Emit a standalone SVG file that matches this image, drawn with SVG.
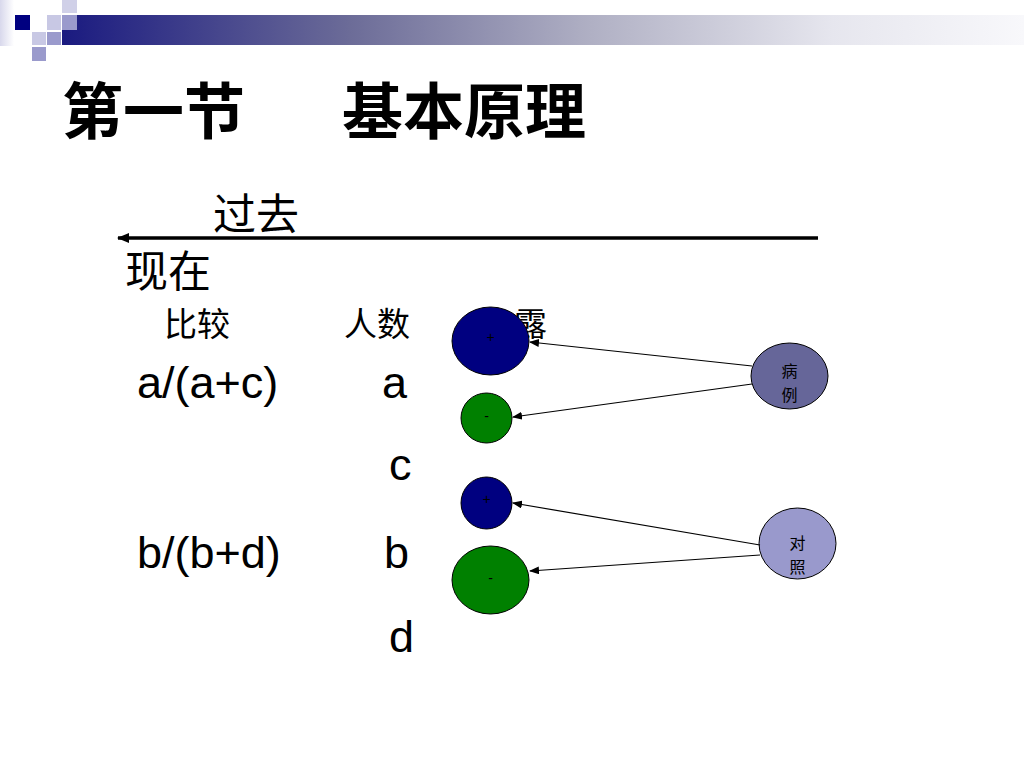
<svg xmlns="http://www.w3.org/2000/svg" width="1024" height="768" viewBox="0 0 1024 768">
<defs>
<linearGradient id="bar" x1="62" y1="0" x2="1024" y2="0" gradientUnits="userSpaceOnUse">
<stop offset="0" stop-color="#1a1a80"/>
<stop offset="0.3" stop-color="#6c6c98"/>
<stop offset="0.55" stop-color="#b0b0c4"/>
<stop offset="0.8" stop-color="#e6e6ee"/>
<stop offset="1" stop-color="#f8f8fb"/>
</linearGradient>
<linearGradient id="edge" x1="0" y1="0" x2="1" y2="0">
<stop offset="0" stop-color="#d8d8ec"/>
<stop offset="1" stop-color="#ffffff"/>
</linearGradient>
<marker id="ah" markerWidth="10" markerHeight="8" refX="9" refY="4" orient="auto" markerUnits="userSpaceOnUse">
<path d="M0,0 L10,4 L0,8 Z" fill="#000"/>
</marker>
<marker id="ahBig" markerWidth="12" markerHeight="10" refX="11" refY="5" orient="auto" markerUnits="userSpaceOnUse">
<path d="M0,0 L12,5 L0,10 Z" fill="#000"/>
</marker>
</defs>
<style>
.cjk{font-family:"Noto Sans CJK SC","Noto Sans CJK JP",sans-serif;fill:#000}
.lat{font-family:"Liberation Sans",Arial,sans-serif;fill:#000}
.sign{font-family:"Liberation Sans",Arial,sans-serif;font-size:14px;fill:#000;text-anchor:middle}
.node-lbl{font-family:"Noto Sans CJK SC",sans-serif;font-size:16px;fill:#000;text-anchor:middle}
.conn{stroke:#000;stroke-width:1.2;fill:none;marker-end:url(#ah)}
.circ{stroke:#000;stroke-width:1}
</style>
<rect width="1024" height="768" fill="#fff"/>
<g id="header">
<rect x="0" y="0" width="14" height="46" fill="url(#edge)"/>
<rect x="62" y="30" width="962" height="15" fill="url(#bar)"/>
<rect x="77" y="15" width="947" height="30" fill="url(#bar)"/>
<rect x="15" y="15" width="15" height="15" fill="#000080"/>
<rect x="47" y="15" width="14" height="15" fill="#c8c8e4"/>
<rect x="62" y="15" width="15" height="15" fill="#9a9acc"/>
<rect x="62" y="0" width="15" height="13" fill="#d0d0e8"/>
<rect x="32" y="32" width="14" height="13" fill="#c8c8e4"/>
<rect x="47" y="32" width="14" height="13" fill="#9a9acc"/>
<rect x="32" y="47" width="14" height="14" fill="#9a9acc"/>
</g>
<g id="title">
<text class="cjk" x="62" y="134" font-size="61" font-weight="bold">第一节</text>
<text class="cjk" x="342" y="134" font-size="61" font-weight="bold">基本原理</text>
</g>
<g id="timeline">
<text class="cjk" x="213" y="230" font-size="43">过去</text>
<line x1="818" y1="238" x2="118" y2="238" stroke="#000" stroke-width="3.5" marker-end="url(#ahBig)"/>
<text class="cjk" x="125" y="287" font-size="43">现在</text>
</g>
<g id="headers">
<text class="cjk" x="164" y="336" font-size="33">比较</text>
<text class="cjk" x="344" y="336" font-size="33">人数</text>
<text class="cjk" x="514" y="336" font-size="33">露</text>
</g>
<g id="formulas">
<text class="lat" x="137" y="398" font-size="45">a/(a+c)</text>
<text class="lat" x="382" y="398" font-size="45">a</text>
<text class="lat" x="389" y="480" font-size="45">c</text>
<text class="lat" x="137" y="568" font-size="45">b/(b+d)</text>
<text class="lat" x="384" y="568" font-size="45">b</text>
<text class="lat" x="389" y="652" font-size="45">d</text>
</g>
<g id="case-exp-pos">
<ellipse class="circ" cx="490.5" cy="341" rx="38.5" ry="34" fill="#000080"/>
<text class="sign" x="490.5" y="342">+</text>
</g>
<g id="case-exp-neg">
<ellipse class="circ" cx="486.5" cy="418" rx="25.5" ry="25" fill="#008000"/>
<text class="sign" x="486.5" y="421">-</text>
</g>
<g id="ctrl-exp-pos">
<ellipse class="circ" cx="486.5" cy="503" rx="25.5" ry="26" fill="#000080"/>
<text class="sign" x="486.5" y="504">+</text>
</g>
<g id="ctrl-exp-neg">
<ellipse class="circ" cx="490.5" cy="580" rx="38.5" ry="34" fill="#008000"/>
<text class="sign" x="490.5" y="583">-</text>
</g>
<g id="case">
<ellipse class="circ" cx="789.5" cy="376" rx="38.5" ry="33" fill="#666699"/>
<text class="node-lbl" x="789.5" y="377">病</text>
<text class="node-lbl" x="789.5" y="401">例</text>
</g>
<g id="control">
<ellipse class="circ" cx="797.5" cy="543.5" rx="38.5" ry="35.5" fill="#9999cc"/>
<text class="node-lbl" x="797.5" y="549">对</text>
<text class="node-lbl" x="797.5" y="573">照</text>
</g>
<g id="connectors">
<line class="conn" x1="752" y1="366" x2="530" y2="342"/>
<line class="conn" x1="752" y1="384" x2="513" y2="417"/>
<line class="conn" x1="760" y1="545" x2="513" y2="503"/>
<line class="conn" x1="760" y1="555" x2="530" y2="571"/>
</g>
</svg>
